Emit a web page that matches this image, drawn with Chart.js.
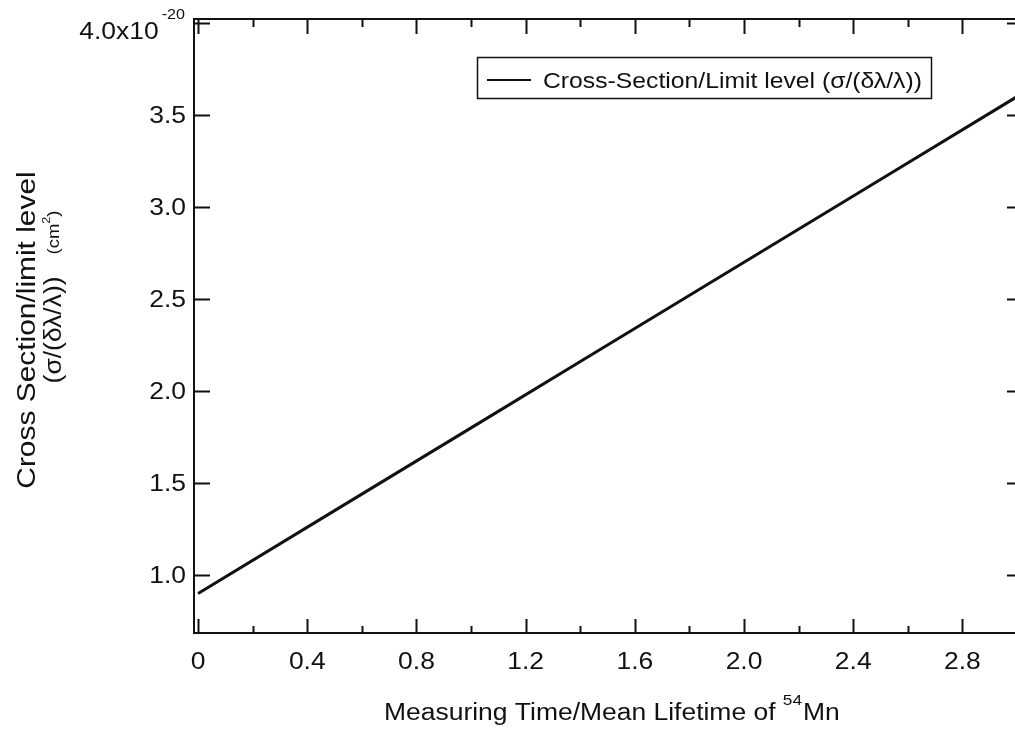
<!DOCTYPE html>
<html><head><meta charset="utf-8">
<script src="https://cdn.jsdelivr.net/npm/chart.js@4.4.0/dist/chart.umd.min.js"></script>
<style>
html,body{margin:0;padding:0;background:#fff;overflow:hidden;width:1015px;height:731px}
#wrap{position:absolute;left:0;top:0;width:1022px;height:731px}
</style>
</head><body><div id="wrap"><canvas id="c" width="1022" height="731"></canvas></div>
<script>
// ---- data ----
const seriesLabel = 'Cross-Section/Limit level (σ/(δλ/λ))';
const xValues = [0, 0.5, 1.0, 1.5, 2.0, 2.5, 3.0];
const yValues = [0.90, 1.35, 1.80, 2.25, 2.70, 3.15, 3.60];
const xMajorTicks = [0, 0.4, 0.8, 1.2, 1.6, 2.0, 2.4, 2.8];
const xTickLabels = ['0', '0.4', '0.8', '1.2', '1.6', '2.0', '2.4', '2.8'];
const xMinorTicks = [0.2, 0.6, 1.0, 1.4, 1.8, 2.2, 2.6];
const yMajorTicks = [1.0, 1.5, 2.0, 2.5, 3.0, 3.5, 4.0];
const yTickLabels = ['1.0', '1.5', '2.0', '2.5', '3.0', '3.5', '4.0x10'];
const yExponent = '-20';
const xTitleMain = 'Measuring Time/Mean Lifetime of ';
const xTitleSup = '54';
const xTitleEnd = 'Mn';
const yTitleLine1 = 'Cross Section/limit level';
const yTitleLine2 = '(σ/(δλ/λ))';
const yTitleUnit = '(cm';
const yTitleUnitSup = '2';
const yTitleUnitEnd = ')';

const FONT = '"Liberation Sans", Arial, sans-serif';
const SX = 1.15;
const INK = '#111';

function sText(ctx, str, x, y, align, size) {
  ctx.save();
  ctx.font = size + 'px ' + FONT;
  const w = ctx.measureText(str).width * SX;
  const x0 = align === 'center' ? x - w / 2 : (align === 'right' ? x - w : x);
  ctx.translate(x0, y);
  ctx.scale(SX, 1);
  ctx.textAlign = 'left';
  ctx.textBaseline = 'alphabetic';
  ctx.fillStyle = INK;
  ctx.fillText(str, 0, 0);
  ctx.restore();
  return w;
}
function sWidth(ctx, str, size) {
  ctx.save(); ctx.font = size + 'px ' + FONT;
  const w = ctx.measureText(str).width * SX; ctx.restore(); return w;
}

const decor = {
  id: 'decor',
  afterDraw(chart) {
    const ctx = chart.ctx, a = chart.chartArea;
    const xs = chart.scales.x, ys = chart.scales.y;
    ctx.save();
    ctx.strokeStyle = INK; ctx.lineWidth = 2;
    // top and right frame
    ctx.beginPath();
    ctx.moveTo(a.left, a.top); ctx.lineTo(a.right, a.top);
    ctx.moveTo(a.right, a.top); ctx.lineTo(a.right, a.bottom);
    ctx.stroke();
    // x ticks (inward, bottom and top)
    ctx.beginPath();
    xMajorTicks.forEach(v => {
      const p = Math.round(xs.getPixelForValue(v)) + 0.5;
      ctx.moveTo(p, a.bottom); ctx.lineTo(p, a.bottom - 14);
      ctx.moveTo(p, a.top); ctx.lineTo(p, a.top + 15);
    });
    xMinorTicks.forEach(v => {
      const p = Math.round(xs.getPixelForValue(v)) + 0.5;
      ctx.moveTo(p, a.bottom); ctx.lineTo(p, a.bottom - 7);
      ctx.moveTo(p, a.top); ctx.lineTo(p, a.top + 8);
    });
    // y ticks (inward, left and right)
    yMajorTicks.forEach(v => {
      const p = Math.round(ys.getPixelForValue(v)) + 0.5;
      ctx.moveTo(a.left, p); ctx.lineTo(a.left + 16, p);
      ctx.moveTo(a.right, p); ctx.lineTo(a.right - 10, p);
    });
    ctx.stroke();

    // x tick labels
    xMajorTicks.forEach((v, i) => {
      sText(ctx, xTickLabels[i], xs.getPixelForValue(v), 669, 'center', 23);
    });
    // y tick labels
    yMajorTicks.forEach((v, i) => {
      const p = ys.getPixelForValue(v);
      if (i === yMajorTicks.length - 1) {
        const ew = sWidth(ctx, yExponent, 14);
        sText(ctx, yExponent, 185 - ew, 19, 'left', 14);
        sText(ctx, yTickLabels[i], 185 - ew - 3, p + 16, 'right', 23);
      } else {
        sText(ctx, yTickLabels[i], 186, p + 8, 'right', 23);
      }
    });

    // x title
    const w1 = sWidth(ctx, xTitleMain, 23), w2 = sWidth(ctx, xTitleSup, 15);
    let tx = 384;
    sText(ctx, xTitleMain, tx, 720, 'left', 23);
    sText(ctx, xTitleSup, tx + w1, 705, 'left', 15);
    sText(ctx, xTitleEnd, tx + w1 + w2 + 1, 720, 'left', 23);

    // y title (rotated)
    ctx.save();
    ctx.rotate(-Math.PI / 2);
    // rotated frame: x' = -screenY, y' = screenX
    sText(ctx, yTitleLine1, -330, 35, 'center', 26);
    const l2a = sWidth(ctx, yTitleLine2 + '   ', 23), l2b = sWidth(ctx, yTitleUnit, 16),
          l2c = sWidth(ctx, yTitleUnitSup, 11), l2d = sWidth(ctx, yTitleUnitEnd, 16);
    const total = l2a + l2b + l2c + l2d;
    let sx = -297 - total / 2;
    sText(ctx, yTitleLine2, sx, 61, 'left', 23);
    sx += l2a;
    sText(ctx, yTitleUnit, sx, 59, 'left', 16);
    sx += l2b;
    sText(ctx, yTitleUnitSup, sx, 50, 'left', 11);
    sx += l2c;
    sText(ctx, yTitleUnitEnd, sx, 59, 'left', 16);
    ctx.restore();

    // legend
    const ds = chart.data.datasets[0];
    ctx.lineWidth = 1.5;
    ctx.strokeRect(477.5, 57.5, 454, 41);
    ctx.beginPath();
    ctx.lineWidth = 2;
    ctx.strokeStyle = ds.borderColor;
    ctx.moveTo(487, 80); ctx.lineTo(531, 80);
    ctx.stroke();
    sText(ctx, ds.label, 543, 88, 'left', 21.5);
    ctx.restore();
  }
};

new Chart(document.getElementById('c'), {
  type: 'line',
  data: {
    datasets: [{
      label: seriesLabel,
      data: xValues.map((x, i) => ({ x: x, y: yValues[i] })),
      borderColor: '#111',
      borderWidth: 3,
      pointRadius: 0,
      tension: 0,
      fill: false
    }]
  },
  options: {
    responsive: false,
    animation: false,
    layout: { padding: { top: 19, right: 5, left: 0, bottom: 0 } },
    plugins: { legend: { display: false }, tooltip: { enabled: false } },
    scales: {
      x: {
        type: 'linear', min: -0.015, max: 3.0,
        grid: { display: false, drawTicks: false },
        border: { display: true, color: INK, width: 2 },
        ticks: { display: false },
        afterFit(s) { s.height = 731 - 633; }
      },
      y: {
        type: 'linear', min: 0.685, max: 4.022,
        grid: { display: false, drawTicks: false },
        border: { display: true, color: INK, width: 2 },
        ticks: { display: false },
        afterFit(s) { s.width = 194; }
      }
    }
  },
  plugins: [decor]
});
</script>
</body></html>
